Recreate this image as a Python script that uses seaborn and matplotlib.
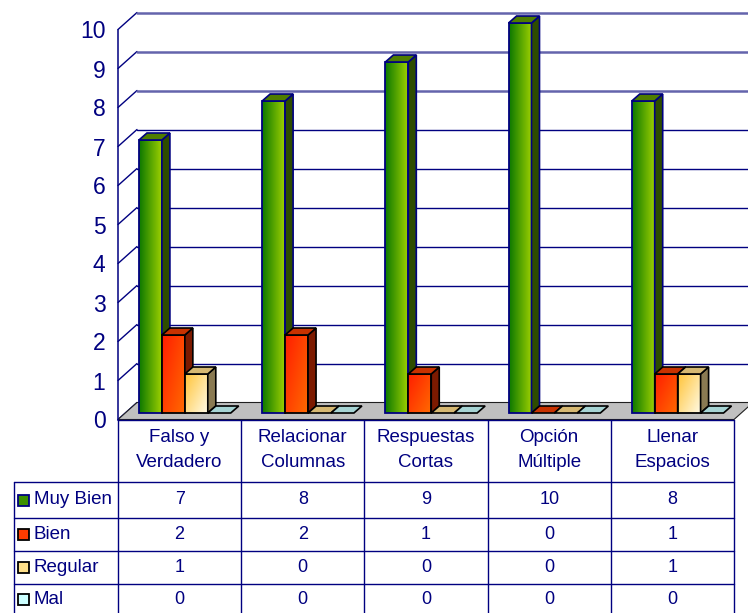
import numpy as np
import pandas as pd
import matplotlib
matplotlib.use("Agg")
import matplotlib.pyplot as plt
import seaborn as sns
from matplotlib.patches import Polygon, Rectangle
from matplotlib.colors import to_rgb

# ---------------- data ----------------
categories = ["Falso y\nVerdadero", "Relacionar\nColumnas", "Respuestas\nCortas",
              "Opción\nMúltiple", "Llenar\nEspacios"]
series = ["Muy Bien", "Bien", "Regular", "Mal"]
muy_bien = [7, 8, 9, 10, 8]
bien = [2, 2, 1, 0, 1]
regular = [1, 0, 0, 0, 1]
mal = [0, 0, 0, 0, 0]
y_ticks = [0, 1, 2, 3, 4, 5, 6, 7, 8, 9, 10]

values = {"Muy Bien": muy_bien, "Bien": bien, "Regular": regular, "Mal": mal}

# ---------------- styles ----------------
NAVY = "#000080"
front_grad = {  # (start colour, end colour, gradient mode)
    "Muy Bien": ("#0c7800", "#9ccf00", "h"),
    "Bien": ("#ff1e00", "#ff6a00", "d"),
    "Regular": ("#ffc43a", "#fffbe6", "d"),
    "Mal": ("#b8ecec", "#e8ffff", "d"),
}
top_col = {"Muy Bien": "#4f7d00", "Bien": "#c83200", "Regular": "#d6b872", "Mal": "#a6d4d4"}
side_col = {"Muy Bien": "#2e4c00", "Bien": "#7c1a00", "Regular": "#8a7a52", "Mal": "#6a9a9a"}
edge_col = {"Muy Bien": NAVY, "Bien": "black", "Regular": "black", "Mal": "black"}
key_col = {"Muy Bien": "#3c9000", "Bien": "#ff3c00", "Regular": "#ffe08a", "Mal": "#ccffff"}

W, H = 748, 613
sns.set_style("white")
plt.rcParams["font.family"] = ["Liberation Sans", "DejaVu Sans"]

fig = plt.figure(figsize=(W / 100, H / 100), dpi=100)

COLW = 123.2      # px per category
PXV = 39.0        # px per value unit
Y0 = 419.5        # pixel row of value 0 (front plane)
AXL, AXR, AXT, AXB = 118, 748, 0, 430
ax = fig.add_axes([AXL / W, 1 - AXB / H, (AXR - AXL) / W, (AXB - AXT) / H])
xlim = (-0.5, -0.5 + (AXR - AXL) / COLW)
ylim = (-(AXB - Y0) / PXV, (Y0 - AXT) / PXV)

WDX, WDY = 19 / COLW, 17 / PXV      # wall depth
BDX, BDY = 8 / COLW, 7 / PXV        # bar depth
BX, BY = 5.25 / COLW, 6.5 / PXV     # bar placement inside the floor

# ---------------- long-form data for seaborn ----------------
rows = []
for s in series:
    for c, v in zip(categories, values[s]):
        rows.append({"Categoría": c, "Serie": s, "Valor": v})
df = pd.DataFrame(rows)

palette = {s: front_grad[s][0] for s in series}
sns.barplot(data=df, x="Categoría", y="Valor", hue="Serie", order=categories,
            hue_order=series, palette=palette, width=0.745, gap=0, dodge=True,
            saturation=1, legend=False, ax=ax)

# ---------------- walls / floor ----------------
n = len(categories)
for v in y_ticks:
    col = "#6464ac" if v >= 8 else NAVY
    lw = 1.8 if v >= 8 else 1.0
    ax.plot([-0.5, -0.5 + WDX], [v, v + WDY], color=NAVY, lw=1.0, zorder=1, clip_on=False)
    ax.plot([-0.5 + WDX, xlim[1]], [v + WDY, v + WDY], color=col, lw=lw, zorder=1, clip_on=False)

floor = Polygon([(-0.5, 0), (n - 0.5, 0), (n - 0.5 + WDX, WDY), (-0.5 + WDX, WDY)],
                closed=True, facecolor="#c0c0c0", edgecolor="#202020", lw=0.8,
                zorder=1.5, clip_on=False)
ax.add_patch(floor)


def grad_img(c1, c2, mode, nn=64):
    u = np.linspace(0, 1, nn)
    U, V = np.meshgrid(u, u)
    if mode == "h":
        t = U
    else:
        t = 0.55 * U + 0.45 * V
    a = np.array(to_rgb(c1))
    b = np.array(to_rgb(c2))
    return a[None, None, :] * (1 - t[..., None]) + b[None, None, :] * t[..., None]


# ---------------- pseudo-3D bars ----------------
for si, (s, cont) in enumerate(zip(series, ax.containers)):
    for ci, rect in enumerate(cont):
        rect.set_x(rect.get_x() + BX)
        rect.set_y(rect.get_y() + BY)
        x0, y0 = rect.get_x(), rect.get_y()
        w, h = rect.get_width(), rect.get_height()
        x1, top = x0 + w, y0 + h
        z = 3 + si * 0.1
        ec = edge_col[s]
        if h > 0:
            c1, c2, mode = front_grad[s]
            im = ax.imshow(grad_img(c1, c2, mode), extent=[x0, x1, y0, top], origin="upper",
                           aspect="auto", interpolation="bilinear", zorder=z)
            im.set_clip_path(rect)
            rect.set_facecolor("none")
            rect.set_edgecolor(ec)
            rect.set_linewidth(1.3)
            rect.set_zorder(z + 0.01)
            side = Polygon([(x1, y0), (x1 + BDX, y0 + BDY), (x1 + BDX, top + BDY), (x1, top)],
                           closed=True, facecolor=side_col[s], edgecolor=ec, lw=1.2, zorder=z + 0.02)
            ax.add_patch(side)
        else:
            rect.set_visible(False)
        topf = Polygon([(x0, top), (x1, top), (x1 + BDX, top + BDY), (x0 + BDX, top + BDY)],
                       closed=True, facecolor=top_col[s], edgecolor=ec, lw=1.2, zorder=z + 0.03)
        ax.add_patch(topf)

# ---------------- axes cosmetics ----------------
ax.set_xlim(*xlim)
ax.set_ylim(*ylim)
for sp in ["top", "right", "bottom"]:
    ax.spines[sp].set_visible(False)
ax.spines["left"].set_bounds(0, 10)
ax.spines["left"].set_color(NAVY)
ax.spines["left"].set_linewidth(1.1)
ax.set_yticks(y_ticks)
ax.set_yticklabels([str(t) for t in y_ticks])
ax.tick_params(axis="y", direction="out", length=5, width=1, color=NAVY,
               labelcolor=NAVY, labelsize=16.5, pad=4)
ax.set_xticks([])
ax.set_xlabel("")
ax.set_ylabel("")
ax.patch.set_visible(False)

# ---------------- data table ----------------
tax = fig.add_axes([0, 0, 1, 1])
tax.set_xlim(0, W)
tax.set_ylim(H, 0)
tax.axis("off")
tax.patch.set_visible(False)

col_x = [AXL + k * COLW for k in range(n + 1)]
row_y = [482, 518, 551, 584]
LEFT = 14
lkw = dict(color=NAVY, lw=1.0)
for xk in col_x:
    tax.plot([xk, xk], [Y0, H], **lkw)
tax.plot([LEFT, LEFT], [row_y[0], H], **lkw)
tax.plot([AXL, col_x[-1]], [Y0, Y0], **lkw)
for ry in row_y:
    tax.plot([LEFT, col_x[-1]], [ry, ry], **lkw)

for k, c in enumerate(categories):
    cx = AXL + (k + 0.5) * COLW
    for li, line in enumerate(c.split("\n")):
        tax.text(cx, 437 + li * 25.5, line, ha="center", va="center", color=NAVY, fontsize=13.5)

row_c = [500, 534.5, 567.5, 599]
for si, s in enumerate(series):
    cy = row_c[si]
    tax.add_patch(Rectangle((18, cy - 5.5), 11, 11, facecolor=key_col[s],
                            edgecolor="black" if s != "Muy Bien" else NAVY, lw=1.3))
    tax.text(34, cy, s, ha="left", va="center", color=NAVY, fontsize=13.5)
    for k, v in enumerate(values[s]):
        cx = AXL + (k + 0.5) * COLW
        tax.text(cx, cy, str(v), ha="center", va="center", color=NAVY, fontsize=13)

fig.savefig("out.png", dpi=100)
